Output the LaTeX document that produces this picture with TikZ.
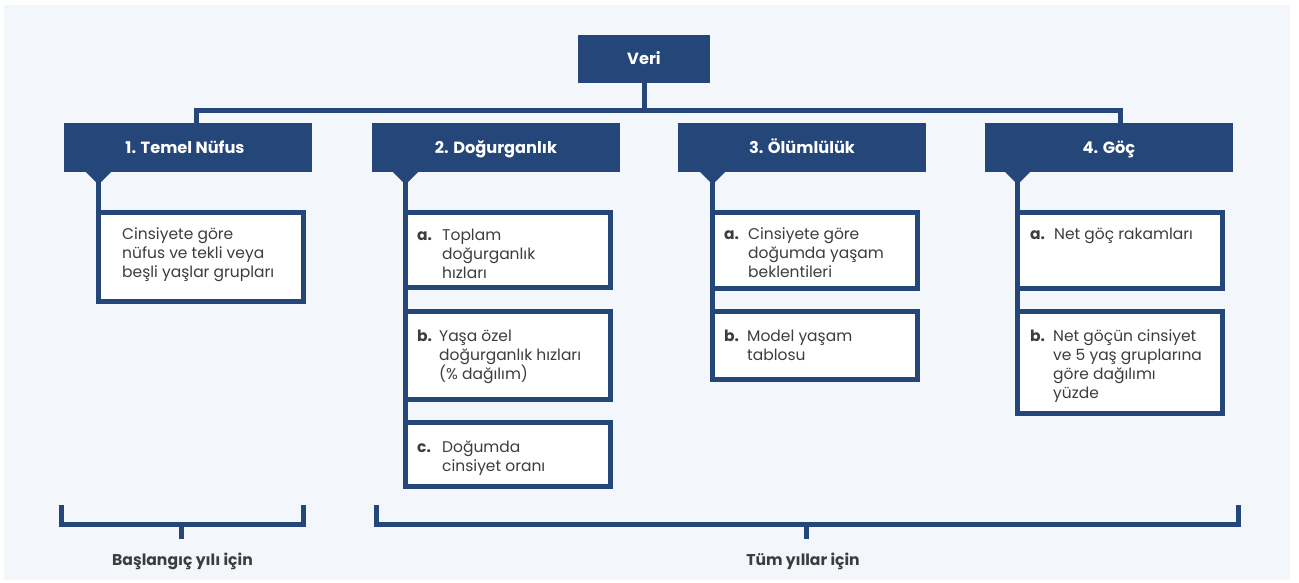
\documentclass[tikz,border=0pt]{standalone}
\usepackage{fontspec}
\setmainfont{Poppins}
\usetikzlibrary{calc}
\definecolor{navy}{HTML}{244679}
\definecolor{bgc}{HTML}{F3F6FB}
\definecolor{txt}{HTML}{3D3D3D}
\newcommand\myBody{\fontsize{15.5}{19}\selectfont}
\newcommand\myHead{\fontsize{16.2}{19}\selectfont\bfseries}
\newcommand\myFoot{\fontsize{15.6}{19}\selectfont\bfseries}
\newcommand\myStrut{\rule{0pt}{16pt}}
\begin{document}
\begin{tikzpicture}[x=1pt,y=-1pt,line join=miter,
  hdr/.style={fill=navy,text=white,font=\myHead,inner sep=0pt,outer sep=0pt,anchor=north west,
    minimum width=248pt,minimum height=49pt,text height=11.5pt,text depth=0pt},
  itembox/.style={draw=navy,line width=5pt,fill=white,inner sep=0pt,outer sep=0pt,anchor=north west,minimum width=205pt},
  itemtxt/.style={anchor=north west,inner sep=0pt,align=left,text=txt,font=\myBody},
  itemlab/.style={anchor=base west,inner sep=0pt,text=txt,font=\myBody\bfseries},
  foot/.style={anchor=base,inner sep=0pt,text=txt,font=\myFoot},
  link/.style={draw=navy,line width=5pt}]
% canvas
\fill[white] (0,0) rectangle (1299,582);
\useasboundingbox (0,0) rectangle (1299,582);
\fill[bgc] (4,5) rectangle (1290,580);

% top node and headers
\node[hdr,minimum width=132pt,minimum height=48pt] (veri) at (578,35) {Veri};
\node[hdr] (h1) at (64,123) {1. Temel Nüfus\hspace*{6pt}};
\node[hdr] (h2) at (372,123) {2. Doğurganlık};
\node[hdr] (h3) at (678,123) {3. Ölümlülük};
\node[hdr] (h4) at (985,123) {4. Göç};

% bus
\coordinate (bus) at (0,110.5);
\coordinate (t1) at ($(h1.north west)+(132,0)$);
\coordinate (t4) at ($(h4.north west)+(135,0)$);
\draw[link] (veri.south) -- (veri.south |- bus);
\draw[link] (t1) -- (t1 |- bus) -- (t4 |- bus) -- (t4);

% item boxes
\node[itembox,minimum height=89pt] (b1) at (98.5,212.5) {};
\node[itembox,minimum height=75pt] (b2a) at (405.5,212.5) {};
\node[itembox,minimum height=88pt] (b2b) at (405.5,311.5) {};
\node[itembox,minimum height=64pt] (b2c) at (405.5,422.5) {};
\node[itembox,minimum height=76pt] (b3a) at (712.5,212.5) {};
\node[itembox,minimum height=68pt] (b3b) at (712.5,311.5) {};
\node[itembox,minimum height=76pt] (b4a) at (1017.5,212.5) {};
\node[itembox,minimum height=102pt] (b4b) at (1017.5,311.5) {};

% notches and spines
\foreach \h/\b/\e in {h1/b1/b1, h2/b2a/b2c, h3/b3a/b3b, h4/b4a/b4b}{
  \coordinate (sp) at (\b.north west |- \h.south);
  \fill[navy] ($(sp)+(-12.5,0)$) -- ($(sp)+(-2.5,10)$) -- ($(sp)+(2.5,10)$) -- ($(sp)+(12.5,0)$) -- cycle;
  \draw[link] (sp) -- (\e.south west);
}

% texts
\node[itemtxt] (x1) at (122,223) {\myStrut Cinsiyete göre\\nüfus ve tekli veya\\beşli yaşlar grupları};

\node[itemlab] (l2a) at (417,240) {a.};
\node[itemtxt] (x2a) at (442,224) {\myStrut Toplam\\doğurganlık\\hızları};
\node[itemlab] (l2b) at (417,341.7) {b.};
\node[itemtxt] (x2b) at (439,325.7) {\myStrut Yaşa özel\\doğurganlık hızları\\(\% dağılım)};
\node[itemlab] (l2c) at (417,452.7) {c.};
\node[itemtxt] (x2c) at (442,436.7) {\myStrut Doğumda\\cinsiyet oranı};

\node[itemlab] (l3a) at (724,239.5) {a.};
\node[itemtxt] (x3a) at (748,223.5) {\myStrut Cinsiyete göre\\doğumda yaşam\\beklentileri};
\node[itemlab] (l3b) at (724,341.7) {b.};
\node[itemtxt] (x3b) at (747,325.7) {\myStrut Model yaşam\\tablosu};

\node[itemlab] (l4a) at (1030,239.5) {a.};
\node[itemtxt] (x4a) at (1054,223.5) {\myStrut Net göç rakamları};
\node[itemlab] (l4b) at (1030,341.7) {b.};
\node[itemtxt] (x4b) at (1053,325.7) {\myStrut Net göçün cinsiyet\\ve 5 yaş gruplarına\\göre dağılımı\\yüzde};

% brackets
\node[foot] (f1) at (182.5,565) {Başlangıç yılı için};
\node[foot] (f2) at (803,565) {Tüm yıllar için};
\coordinate (k1a) at (61,505);
\coordinate (k1b) at (303.5,505);
\coordinate (k1s) at (181.5,524.5);
\coordinate (k2a) at (376,505);
\coordinate (k2b) at (1238,505);
\coordinate (k2s) at (806,524.5);
\draw[link] (k1a) -- (k1a |- k1s) -- (k1b |- k1s) -- (k1b);
\draw[link] (k1s) -- ++(0,14.5);
\draw[link] (k2a) -- (k2a |- k2s) -- (k2b |- k2s) -- (k2b);
\draw[link] (k2s) -- ++(0,14.5);
\end{tikzpicture}
\end{document}
